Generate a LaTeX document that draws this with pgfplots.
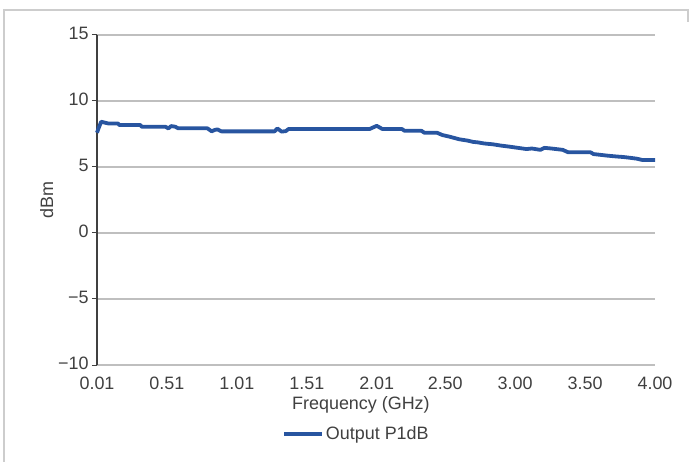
\documentclass[border=0pt]{standalone}
\usepackage{fontspec}
\setmainfont{Liberation Sans}
\usepackage{pgfplots}
\pgfplotsset{compat=1.18}
\definecolor{lineblue}{RGB}{40,85,160}
\definecolor{gridgray}{RGB}{191,191,191}
\definecolor{framegray}{RGB}{205,205,205}
\definecolor{txt}{RGB}{64,64,64}
\begin{document}
\begin{tikzpicture}
\useasboundingbox (0bp,0bp) rectangle (689bp,462bp);
\draw[framegray, line width=1.5bp] (4bp,0bp) -- (4bp,452bp) -- (688bp,452bp) -- (688bp,440bp);
\begin{axis}[
  at={(97bp,97bp)}, anchor=south west,
  scale only axis, width=558bp, height=330bp,
  xmin=0.01, xmax=4.00, ymin=-10, ymax=15,
  axis x line=bottom, axis y line=left,
  x axis line style={gridgray, line width=1.5bp, -},
  y axis line style={txt, line width=1.3bp, -},
  xtick={0.01,0.51,1.01,1.51,2.01,2.50,3.00,3.50,4.00},
  xticklabels={0.01,0.51,1.01,1.51,2.01,2.50,3.00,3.50,4.00},
  ytick={-10,-5,0,5,10,15},
  yticklabels={−10,−5,0,5,10,15},
  xtick style={draw=none},
  ytick style={txt, line width=1bp},
  tick align=outside, major tick length=5bp,
  ymajorgrids, grid style={gridgray, line width=1.5bp},
  ticklabel style={font=\fontsize{18}{18}\selectfont, text=txt},
  xticklabel style={anchor=north, text height=13bp, text depth=0bp, yshift=-3bp},
  yticklabel style={yshift=2bp},
  xlabel={Frequency (GHz)}, ylabel={dBm},
  label style={font=\fontsize{18}{18}\selectfont, text=txt},
  xlabel style={at={(rel axis cs:0.473,-0.121)}, anchor=center},
  ylabel style={at={(rel axis cs:-0.090,0.5)}, anchor=center, rotate=0},
  legend style={at={(rel axis cs:0.3315,-0.209)}, anchor=west, draw=none, fill=none,
    font=\fontsize{18}{18}\selectfont, text=txt, inner sep=0pt,
    nodes={inner sep=2bp}},
  legend image code/.code={\draw[#1] (0bp,0bp) -- (38bp,0bp);},
  clip=false,
]
\addplot[lineblue, line width=3.8bp, line join=round] coordinates {
(0.01,7.6) (0.02,7.9) (0.04,8.43) (0.07,8.35) (0.09,8.3) (0.16,8.3)
(0.17,8.18) (0.32,8.18) (0.33,8.05) (0.50,8.05) (0.52,7.92) (0.54,8.1)
(0.57,8.05) (0.59,7.93) (0.80,7.93) (0.83,7.70) (0.85,7.80) (0.87,7.85)
(0.90,7.70) (1.28,7.70) (1.30,7.92) (1.33,7.68) (1.36,7.72) (1.38,7.88)
(1.96,7.88) (2.01,8.12) (2.05,7.88) (2.19,7.88) (2.21,7.74) (2.33,7.74)
(2.35,7.6) (2.44,7.6) (2.48,7.42) (2.53,7.3) (2.60,7.1) (2.66,7.0)
(2.70,6.9) (2.73,6.87) (2.78,6.78) (2.84,6.72) (2.90,6.62) (2.96,6.54)
(3.02,6.45) (3.08,6.36) (3.12,6.40) (3.18,6.30) (3.21,6.45) (3.26,6.40)
(3.34,6.3) (3.38,6.11) (3.54,6.11) (3.56,5.98) (3.66,5.86) (3.72,5.80)
(3.77,5.76) (3.82,5.70) (3.87,5.63) (3.91,5.53) (4.00,5.53)
};
\addlegendentry{Output P1dB}
\end{axis}
\end{tikzpicture}
\end{document}
